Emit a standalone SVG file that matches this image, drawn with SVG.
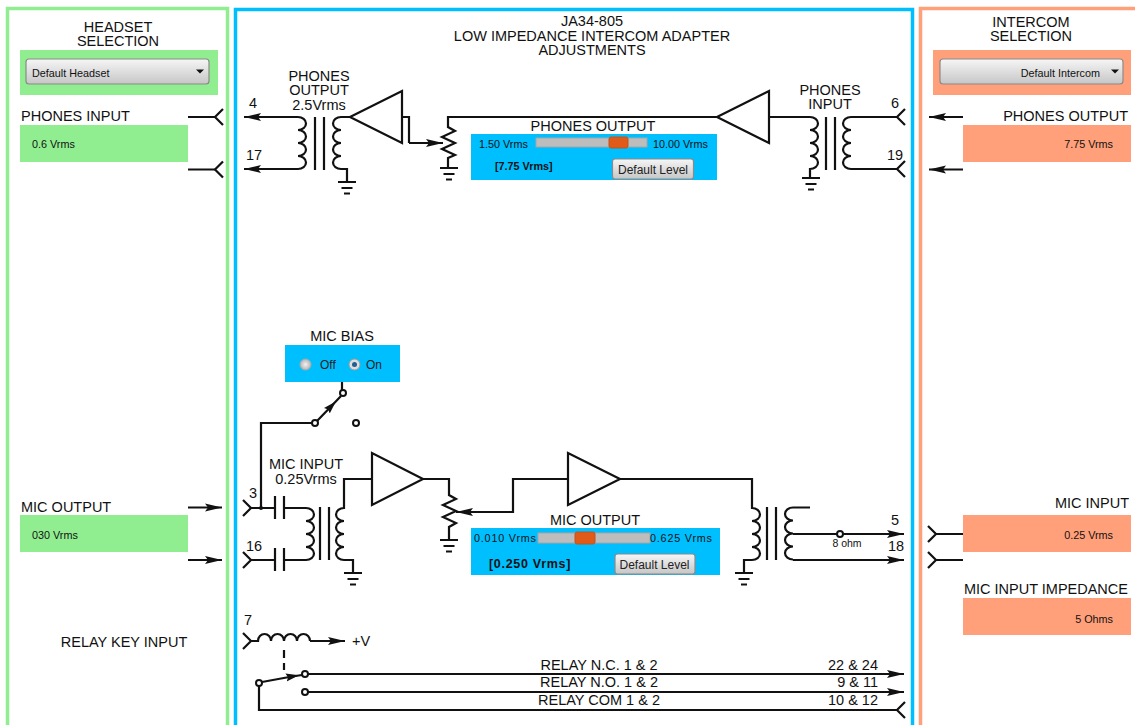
<svg xmlns="http://www.w3.org/2000/svg" width="1135" height="725" viewBox="0 0 1135 725">
<style>
text{font-family:"Liberation Sans",Arial,sans-serif;fill:#111}
.t{font-size:14.500px}.m{text-anchor:middle}.e{text-anchor:end}
.s{font-size:10.800px}.b{font-weight:bold}
.d{font-size:12px;fill:#222}
.wire{fill:none;stroke:#111;stroke-width:2.200}
.tri{fill:#fff;stroke:#111;stroke-width:2.200;stroke-linejoin:miter}
.pad{fill:#fff;stroke:#111;stroke-width:2}
.panel{fill:#fff;stroke-width:3.500}
.track{fill:#bdbdbd;stroke:#a5a5a5}
.thumb{fill:#e05a1a;stroke:#c0541f}
.btn{fill:url(#btn);stroke:#8a8a8a;stroke-width:1.200}
</style>
<defs>
<linearGradient id="btn" x1="0" y1="0" x2="0" y2="1"><stop offset="0" stop-color="#f6f6f6"/><stop offset="1" stop-color="#c6c6c6"/></linearGradient>
<radialGradient id="rad"><stop offset="0" stop-color="#f2f2f2"/><stop offset="1" stop-color="#b4b4b4"/></radialGradient>
<marker id="arr" markerUnits="userSpaceOnUse" markerWidth="18" markerHeight="9" refX="17" refY="4.500" orient="auto"><path d="M0 0.500L17 4.500L0 8.500L3 4.500Z" fill="#111"/></marker>
<marker id="arrs" markerUnits="userSpaceOnUse" markerWidth="14" markerHeight="9" refX="6" refY="4.500" orient="auto"><path d="M0 0.500L13 4.500L0 8.500L2 4.500Z" fill="#111"/></marker>
<path id="gnd" d="M-9 0H9M-5.500 6H5.500M-3 11.500H3" fill="none" stroke="#111" stroke-width="2.200"/>
<path id="forkL" d="M8 -8L0 0L8 8" fill="none" stroke="#111" stroke-width="2.200"/>
<path id="forkR" d="M-8 -8L0 0L-8 8" fill="none" stroke="#111" stroke-width="2.200"/>
</defs>

<g id="panel-headset">
<rect class="panel" x="7.500" y="8.500" width="220" height="719" stroke="#90EE90"/>
<text class="t m" x="118" y="32">HEADSET</text><text class="t m" x="118" y="46">SELECTION</text>
<rect x="20" y="50" width="198" height="45" fill="#90EE90"/>
<rect class="btn" x="26" y="59" width="183" height="25" rx="3"/>
<text class="s" x="32" y="77">Default Headset</text>
<path d="M196 69.500h8l-4 4z" fill="#111"/>
<text class="t" x="21" y="121">PHONES INPUT</text>
<rect x="20" y="125" width="168" height="37" fill="#90EE90"/>
<text class="s" x="32" y="148">0.6 Vrms</text>
<text class="t" x="21" y="512">MIC OUTPUT</text>
<rect x="20" y="515" width="168" height="37" fill="#90EE90"/>
<text class="s" x="32" y="539">030 Vrms</text>
<text class="t m" x="124" y="647">RELAY KEY INPUT</text>
</g>

<g id="panel-adapter">
<rect class="panel" x="235.500" y="9.500" width="677" height="718" stroke="#00BFFF"/>
<text class="t m" x="592" y="26">JA34-805</text>
<text class="t m" x="592" y="41">LOW IMPEDANCE INTERCOM ADAPTER</text>
<text class="t m" x="592" y="55">ADJUSTMENTS</text>
</g>

<g id="panel-intercom">
<rect class="panel" x="920.500" y="8.500" width="230" height="719" stroke="#FFA07A"/>
<text class="t m" x="1031" y="27">INTERCOM</text><text class="t m" x="1031" y="41">SELECTION</text>
<rect x="933" y="50" width="198" height="45" fill="#FFA07A"/>
<rect class="btn" x="940" y="59" width="183" height="25" rx="3"/>
<text class="s e" x="1100" y="77">Default Intercom</text>
<path d="M1111 69.500h8l-4 4z" fill="#111"/>
<text class="t e" x="1128" y="121">PHONES OUTPUT</text>
<rect x="963" y="125" width="168" height="37" fill="#FFA07A"/>
<text class="s e" x="1113" y="148">7.75 Vrms</text>
<text class="t e" x="1129" y="508">MIC INPUT</text>
<rect x="963" y="515" width="168" height="37" fill="#FFA07A"/>
<text class="s e" x="1113" y="539">0.25 Vrms</text>
<text class="t e" x="1128" y="594">MIC INPUT IMPEDANCE</text>
<rect x="963" y="598" width="168" height="37" fill="#FFA07A"/>
<text class="s e" x="1113" y="623">5 Ohms</text>
</g>

<g id="connectors">
<path class="wire" d="M188 117H215M188 169.500H215"/>
<use href="#forkL" x="215" y="117"/><use href="#forkL" x="215" y="169.500"/>
<path class="wire" marker-end="url(#arr)" d="M963 117H929"/>
<path class="wire" marker-end="url(#arr)" d="M963 169.500H929"/>
<path class="wire" marker-end="url(#arr)" d="M188 507.500H222"/>
<path class="wire" marker-end="url(#arr)" d="M188 560H222"/>
<path class="wire" d="M963 534H936M963 560H936"/>
<use href="#forkR" x="936" y="534"/><use href="#forkR" x="936" y="560"/>

<path class="wire" marker-end="url(#arr)" d="M298 117H244"/>
<path class="wire" marker-end="url(#arr)" d="M298 169H244"/>
<path class="wire" d="M298 117a8 6.500 0 0 1 0 13a8 6.500 0 0 1 0 13a8 6.500 0 0 1 0 13a8 6.500 0 0 1 0 13"/>
<path class="wire" d="M315 117V170M324 117V170"/>
<path class="wire" d="M350 117H341a8 6.500 0 0 0 0 13a8 6.500 0 0 0 0 13a8 6.500 0 0 0 0 13a8 6.500 0 0 0 0 13H347V182"/>
<use href="#gnd" x="347" y="182"/>
<path class="wire" d="M402 117H409V143"/>
<path class="wire" marker-end="url(#arr)" d="M409 143H443"/>
<path class="wire" d="M717 117H448V127L455 131L442 137L455 143L442 149L455 155L448 158V168"/>
<use href="#gnd" x="449" y="168"/>
<path class="wire" d="M769 117H810a8 6.500 0 0 1 0 13a8 6.500 0 0 1 0 13a8 6.500 0 0 1 0 13a8 6.500 0 0 1 0 13V178"/>
<use href="#gnd" x="811" y="178"/>
<path class="wire" d="M826 117V170M835 117V170"/>
<path class="wire" d="M897 117H851a8 6.500 0 0 0 0 13a8 6.500 0 0 0 0 13a8 6.500 0 0 0 0 13a8 6.500 0 0 0 0 13H897"/>
<path class="wire" d="M905 109L897 117L905 125M905 161L897 169L905 177"/>

<path class="wire" d="M342 382V390"/>
<path class="wire" marker-mid="url(#arrs)" d="M317 421L331 406.500L341 396"/>
<path class="wire" d="M312 423H261V508"/>
<path class="wire" d="M251 508H275M275 496V519M284 496V519M284 508H306a8 6.500 0 0 1 0 13a8 6.500 0 0 1 0 13a8 6.500 0 0 1 0 13a8 6.500 0 0 1 0 13H284"/>
<path class="wire" d="M251 560H275M275 548V571M284 548V571"/>
<path class="wire" d="M243 500L251 508L243 516M243 552L251 560L243 568"/>
<circle cx="261" cy="508" r="2" fill="#111"/>
<path class="wire" d="M320 507V560M329 507V560"/>
<path class="wire" d="M372 479H344V508a8 6.500 0 0 0 0 13a8 6.500 0 0 0 0 13a8 6.500 0 0 0 0 13a8 6.500 0 0 0 0 13H353V573"/>
<use href="#gnd" x="353" y="573"/>
<path class="wire" d="M423 479H449V495L456 499L443 505L456 511L443 517L456 523L449 527V540"/>
<use href="#gnd" x="449" y="540"/>
<path class="wire" marker-end="url(#arr)" d="M568 479H513V512H456"/>
<path class="wire" d="M620 479H752V508a8 6.500 0 0 1 0 13a8 6.500 0 0 1 0 13a8 6.500 0 0 1 0 13a8 6.500 0 0 1 0 13H744V573"/>
<use href="#gnd" x="744" y="573"/>
<path class="wire" d="M767 507V560M776 507V560"/>
<path class="wire" d="M810 507.500H793a8 6.500 0 0 0 0 13a8 6.500 0 0 0 0 13a8 6.500 0 0 0 0 13a8 6.500 0 0 0 0 13"/>
<path class="wire" marker-end="url(#arr)" d="M793 534H904"/>
<path class="wire" marker-end="url(#arr)" d="M793 560H904"/>

<path class="wire" d="M243 633L251 641L243 649"/>
<path class="wire" d="M251 641H258a6.500 7 0 0 1 13 0a6.500 7 0 0 1 13 0a6.500 7 0 0 1 13 0a6.500 7 0 0 1 13 0"/>
<path class="wire" marker-end="url(#arr)" d="M310 641H345"/>
<path class="wire" stroke-dasharray="8 5" d="M284 650V670"/>
<path class="wire" marker-mid="url(#arrs)" d="M262 682L292 676.500L302 675"/>
<path class="wire" marker-end="url(#arr)" d="M308 674H904"/>
<path class="wire" marker-end="url(#arr)" d="M308 692H904"/>
<path class="wire" d="M259 686V710H897M905 702L897 710L905 718"/>

<circle class="pad" cx="343" cy="393" r="3"/>
<circle class="pad" cx="315" cy="423" r="3"/>
<circle class="pad" cx="356" cy="423" r="3"/>
<circle class="pad" cx="840" cy="534" r="3"/>
<circle class="pad" cx="259" cy="683" r="3"/>
<circle class="pad" cx="305" cy="674" r="3"/>
<circle class="pad" cx="305" cy="692" r="3"/>
</g>

<g id="amp-phones-left"><path class="tri" d="M350 117L402 91V143Z"/></g>
<g id="amp-phones-right"><path class="tri" d="M717 117L769 91V143Z"/></g>
<g id="amp-mic-input"><path class="tri" d="M423 479L372 453V505Z"/></g>
<g id="amp-mic-output"><path class="tri" d="M620 479L568 453V505Z"/></g>

<g id="labels-circuit">
<text class="t m" x="319" y="81">PHONES</text><text class="t m" x="319" y="95">OUTPUT</text><text class="t m" x="319" y="110">2.5Vrms</text>
<text class="t m" x="253" y="108">4</text><text class="t m" x="254" y="160">17</text>
<text class="t m" x="830" y="95">PHONES</text><text class="t m" x="830" y="109">INPUT</text>
<text class="t m" x="895" y="108">6</text><text class="t m" x="895" y="160">19</text>
<text class="t m" x="306" y="469">MIC INPUT</text><text class="t m" x="306" y="484">0.25Vrms</text>
<text class="t m" x="253" y="498">3</text><text class="t m" x="254" y="551">16</text>
<text class="t m" x="895" y="525">5</text><text class="t m" x="896" y="551">18</text>
<text class="m" x="847" y="547" font-size="10.500">8 ohm</text>
<text class="t m" x="248" y="625">7</text><text class="t" x="352" y="646">+V</text>
<text class="t m" x="599" y="670">RELAY N.C. 1 &amp; 2</text>
<text class="t m" x="599" y="687">RELAY N.O. 1 &amp; 2</text>
<text class="t m" x="599" y="705">RELAY COM 1 &amp; 2</text>
<text class="t e" x="878" y="670">22 &amp; 24</text>
<text class="t e" x="878" y="687">9 &amp; 11</text>
<text class="t e" x="878" y="705">10 &amp; 12</text>
</g>

<g id="control-phones-output">
<text class="t m" x="593" y="131">PHONES OUTPUT</text>
<rect x="471" y="134" width="246" height="46" fill="#00BFFF"/>
<text class="s" x="479" y="148">1.50 Vrms</text>
<rect class="track" x="536" y="138" width="111" height="9"/>
<rect class="thumb" x="609" y="137" width="19" height="11" rx="2"/>
<text class="s" x="653" y="148">10.00 Vrms</text>
<text class="s b" x="495" y="170">[7.75 Vrms]</text>
<rect class="btn" x="612.500" y="159" width="81" height="20" rx="2.500"/>
<text class="d m" x="653" y="174">Default Level</text>
</g>

<g id="control-mic-bias">
<text class="t m" x="342" y="341">MIC BIAS</text>
<rect x="285" y="345" width="115" height="37" fill="#00BFFF"/>
<circle cx="305.500" cy="364.500" r="5.500" fill="url(#rad)" stroke="#aaa"/>
<text class="d" x="320" y="369">Off</text>
<circle cx="354.500" cy="364.500" r="5.500" fill="#ddd" stroke="#999"/>
<circle cx="354.500" cy="364.500" r="2.500" fill="#1f5f94"/>
<text class="d" x="366" y="369">On</text>
</g>

<g id="control-mic-output">
<text class="t m" x="595" y="525">MIC OUTPUT</text>
<rect x="471" y="528" width="249" height="47" fill="#00BFFF"/>
<text class="s" x="474" y="542" letter-spacing="0.800">0.010 Vrms</text>
<rect class="track" x="538" y="533" width="112" height="10"/>
<rect class="thumb" x="575" y="532" width="20" height="12" rx="2"/>
<text class="s" x="650" y="542" letter-spacing="0.800">0.625 Vrms</text>
<text class="b" x="489" y="568" font-size="12.500" letter-spacing="0.700">[0.250 Vrms]</text>
<rect class="btn" x="615" y="554" width="80" height="20" rx="2.500"/>
<text class="d m" x="654.500" y="569">Default Level</text>
</g>
</svg>
